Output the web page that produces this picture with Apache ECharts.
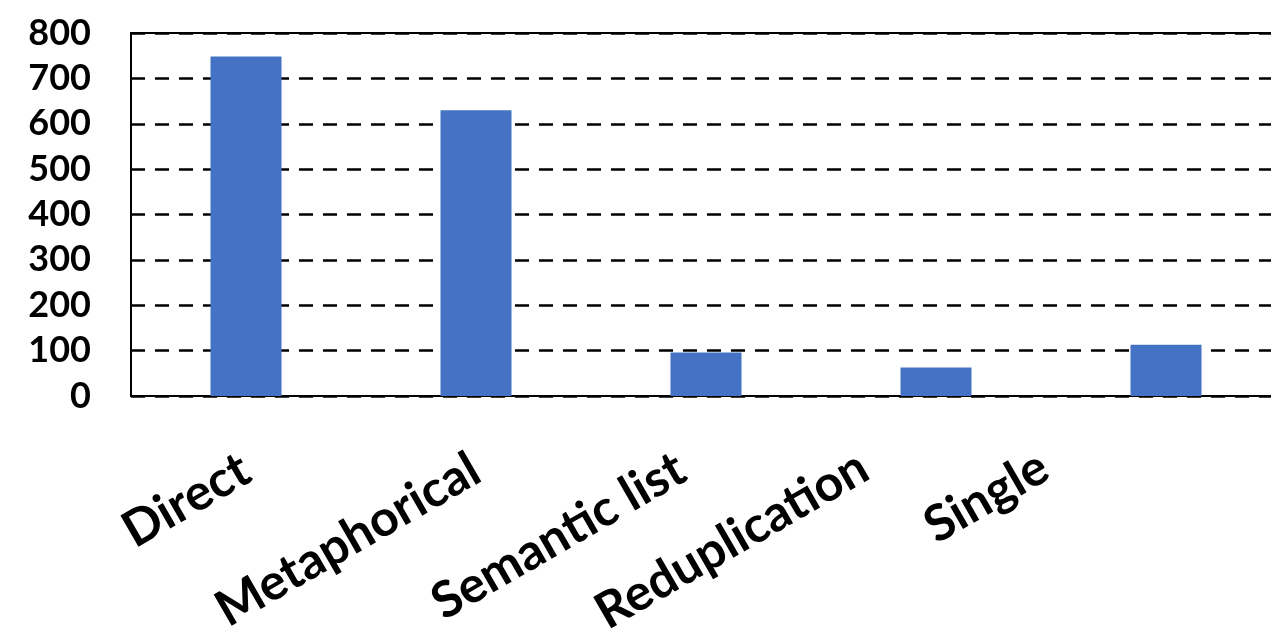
<!DOCTYPE html>
<html>
<head>
<meta charset="utf-8">
<script src="https://cdn.jsdelivr.net/npm/echarts@6/dist/echarts.min.js"></script>
<style>
  html, body { margin: 0; padding: 0; background: #fff; }
  #chart { width: 1271px; height: 635px; }
</style>
</head>
<body>
<div id="chart"></div>
<script>
// Categories of expression and their counts
const categories = ['Direct', 'Metaphorical', 'Semantic list', 'Reduplication', 'Single'];
const counts = [748, 630, 96, 63, 113];
const yTicks = [0, 100, 200, 300, 400, 500, 600, 700, 800];

// Per-label nudges in the rotated text frame: [top, right, bottom, left].
// Right padding slides a label back along its baseline, bottom padding lifts it.
const labelPadding = [
  [0, 0, 0, 0],
  [0, 0, 0, 0],
  [0, 21, 26, 0],
  [0, 61, 76, 0],
  [0, 104, 126, 0]
];

const labelFont = {
  color: '#000',
  fontFamily: 'Lato',
  fontWeight: 'bold',
  fontSize: 50
};

const richStyles = {};
labelPadding.forEach((p, i) => {
  richStyles['c' + i] = Object.assign({ padding: p }, labelFont);
});

const chart = echarts.init(document.getElementById('chart'), null, { renderer: 'canvas' });

chart.setOption({
  animation: false,
  backgroundColor: '#ffffff',
  grid: {
    left: 131,
    right: -10,
    top: 33,
    bottom: 239,
    containLabel: false,
    outerBoundsMode: 'none',
    show: true,
    borderColor: '#000',
    borderWidth: 2
  },
  xAxis: {
    type: 'category',
    data: categories,
    axisLine: { show: true, lineStyle: { color: '#000', width: 2 } },
    axisTick: { show: false },
    axisLabel: Object.assign({
      interval: 0,
      rotate: 30,
      margin: 70,
      formatter: (value, index) => '{c' + index + '|' + value + '}',
      rich: richStyles
    }, labelFont)
  },
  yAxis: {
    type: 'value',
    min: yTicks[0],
    max: yTicks[yTicks.length - 1],
    interval: yTicks[1] - yTicks[0],
    axisLine: { show: true, lineStyle: { color: '#000', width: 2 } },
    axisTick: { show: false },
    axisLabel: {
      margin: 40,
      color: '#000',
      fontFamily: 'Lato',
      fontWeight: 'bold',
      fontSize: 36
    },
    splitLine: {
      show: true,
      lineStyle: { color: '#000', width: 2.5, type: [14, 10] }
    }
  },
  series: [{
    type: 'bar',
    data: counts,
    barWidth: 71,
    itemStyle: { color: '#4472C4' }
  }]
});
</script>
</body>
</html>
